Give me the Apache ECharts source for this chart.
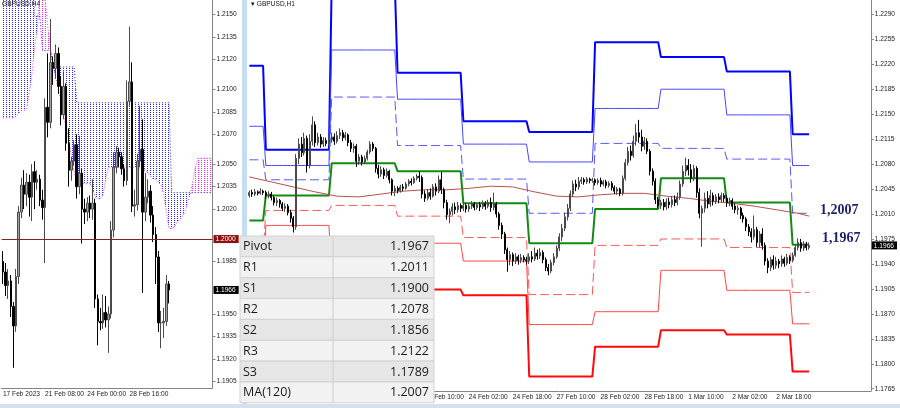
<!DOCTYPE html>
<html>
<head>
<meta charset="utf-8">
<script src="https://cdn.jsdelivr.net/npm/echarts@6/dist/echarts.min.js"></script>
<style>
  html, body { margin: 0; padding: 0; background: #fff; }
  #chart { width: 900px; height: 408px; }
</style>
</head>
<body>
<div id="chart"></div>
<script>
// ---- left window: GBPUSD H4, [open, close, low, high] ----
var leftCandles = [
  [1.1985,1.1978,1.1970,1.1992],[1.1978,1.1969,1.1962,1.1984],[1.1969,1.1972,1.1960,1.1980],
  [1.1972,1.1955,1.1948,1.1976],[1.1955,1.1942,1.1914,1.1958],[1.1942,1.1975,1.1938,1.1980],
  [1.1975,1.2018,1.1970,1.2022],[1.2018,1.2036,1.2014,1.2041],[1.2036,1.2030,1.2020,1.2046],
  [1.2030,1.2038,1.2022,1.2044],[1.2038,1.2028,1.2015,1.2043],[1.2028,1.2045,1.2012,1.2050],
  [1.2045,1.2038,1.2020,1.2052],[1.2038,1.2040,1.2033,1.2046],[1.2040,1.2026,1.2022,1.2043],
  [1.2026,1.2021,1.2013,1.2033],[1.2021,1.2088,1.1984,1.2094],[1.2088,1.2078,1.2068,1.2124],
  [1.2078,1.2118,1.2074,1.2147],[1.2118,1.2114,1.2103,1.2122],[1.2114,1.2124,1.2107,1.2130],
  [1.2124,1.2102,1.2097,1.2128],[1.2102,1.2083,1.2076,1.2109],[1.2083,1.2102,1.2080,1.2112],
  [1.2102,1.2064,1.2059,1.2104],[1.2064,1.2046,1.2035,1.2074],[1.2046,1.2052,1.2039,1.2055],
  [1.2052,1.2063,1.2049,1.2066],[1.2063,1.2035,1.2027,1.2070],[1.2035,1.2044,1.2030,1.2069],
  [1.2044,1.2020,1.1997,1.2047],[1.2020,1.2018,1.2010,1.2027],[1.2018,1.2024,1.2012,1.2028],
  [1.2024,1.2020,1.2014,1.2029],[1.2020,1.2024,1.2013,1.2040],[1.2024,1.1960,1.1954,1.2027],
  [1.1960,1.1945,1.1929,1.1963],[1.1945,1.1944,1.1939,1.1954],[1.1944,1.1951,1.1940,1.1963],
  [1.1951,1.1946,1.1941,1.1962],[1.1946,1.1950,1.1924,1.1955],[1.1950,1.2006,1.1947,1.2012],
  [1.2006,1.2048,1.2001,1.2058],[1.2048,1.2058,1.2044,1.2062],[1.2058,1.2055,1.2048,1.2061],
  [1.2055,1.2047,1.2043,1.2058],[1.2047,1.2039,1.2035,1.2050],[1.2039,1.2092,1.2036,1.2106],
  [1.2092,1.2105,1.2089,1.2142],[1.2105,1.2022,1.2018,1.2118],[1.2022,1.2023,1.2015,1.2033],
  [1.2023,1.2052,1.2019,1.2057],[1.2052,1.2060,1.2048,1.2089],[1.2060,1.2018,1.1964,1.2080],
  [1.2018,1.2028,1.2012,1.2044],[1.2028,1.2032,1.2024,1.2040],[1.2032,1.2016,1.2011,1.2036],
  [1.2016,1.2003,1.1998,1.2022],[1.2003,1.1988,1.1970,1.2008],[1.1988,1.1944,1.1938,1.1992],
  [1.1944,1.1944,1.1927,1.1952],[1.1944,1.1945,1.1934,1.1954],[1.1945,1.1970,1.1942,1.1976],
  [1.1970,1.1966,1.1957,1.1972]
];
var leftBarCount = 80;
var leftXLabels = ['17 Feb 2023', '21 Feb 08:00', '24 Feb 00:00', '28 Feb 16:00'];
var leftTicks = [1.1905, 1.1920, 1.1935, 1.1950, 1.1985, 1.2020, 1.2035, 1.2050,
                 1.2070, 1.2085, 1.2100, 1.2120, 1.2135, 1.2150];
var leftLast = 1.1966;
var leftLevel = 1.2000;

// ichimoku senkou spans (shifted forward, so longer than the candles)
var spanA = [
  1.2081,1.2081,1.2081,1.2081,1.2081,1.2082,1.2084,1.2086,1.2086,1.2087,
  1.2098,1.2110,1.2128,1.2140,1.2165,1.2175,1.2160,1.2142,1.2128,1.2118,
  1.2108,1.2100,1.2092,1.2083,1.2074,1.2066,1.2055,1.2045,1.2038,1.2037,
  1.2037,1.2037,1.2037,1.2037,1.2034,1.2028,1.2027,1.2027,1.2030,1.2040,
  1.2048,1.2048,1.2048,1.2048,1.2048,1.2048,1.2048,1.2048,1.2048,1.2048,
  1.2048,1.2048,1.2047,1.2046,1.2046,1.2044,1.2042,1.2040,1.2040,1.2038,
  1.2036,1.2030,1.2018,1.2007,1.2007,1.2008,1.2011,1.2013,1.2015,1.2018,
  1.2024,1.2030,1.2038,1.2048,1.2054,1.2054,1.2054,1.2054,1.2054,1.2054
];
var spanB = [
  1.2190,1.2190,1.2190,1.2190,1.2190,1.2190,1.2190,1.2190,1.2190,1.2190,
  1.2190,1.2190,1.2149,1.2149,1.2149,1.2126,1.2126,1.2126,1.2126,1.2115,
  1.2115,1.2115,1.2115,1.2115,1.2115,1.2115,1.2115,1.2115,1.2091,1.2091,
  1.2091,1.2091,1.2091,1.2091,1.2091,1.2091,1.2091,1.2091,1.2091,1.2091,
  1.2091,1.2091,1.2091,1.2091,1.2091,1.2091,1.2091,1.2091,1.2091,1.2091,
  1.2091,1.2091,1.2091,1.2091,1.2091,1.2091,1.2091,1.2091,1.2091,1.2091,
  1.2091,1.2091,1.2091,1.2091,1.2031,1.2031,1.2031,1.2031,1.2031,1.2031,
  1.2031,1.2031,1.2031,1.2031,1.2031,1.2031,1.2031,1.2031,1.2031,1.2031
];

// ---- right window: GBPUSD H1, [open, close, low, high] ----
var rightCandles = [
  // 20 Feb 18:00
  [1.2036,1.2040,1.2033,1.2043],[1.2040,1.2038,1.2034,1.2044],[1.2038,1.2041,1.2035,1.2045],
  [1.2041,1.2039,1.2036,1.2043],[1.2039,1.2042,1.2037,1.2046],[1.2042,1.2040,1.2037,1.2044],
  // 21 Feb
  [1.2040,1.2036,1.2031,1.2043],[1.2036,1.2038,1.2032,1.2042],[1.2038,1.2033,1.2029,1.2041],
  [1.2033,1.2026,1.2022,1.2036],[1.2026,1.2029,1.2021,1.2033],[1.2029,1.2024,1.2019,1.2031],
  [1.2024,1.2018,1.2014,1.2027],[1.2018,1.2021,1.2013,1.2025],[1.2021,1.2012,1.2008,1.2024],
  [1.2012,1.2004,1.1998,1.2016],[1.2004,1.1992,1.1984,1.2007],[1.1992,1.2088,1.1988,1.2094],
  [1.2088,1.2108,1.2080,1.2116],[1.2108,1.2096,1.2090,1.2118],[1.2096,1.2116,1.2092,1.2124],
  [1.2116,1.2078,1.2068,1.2120],[1.2078,1.2112,1.2074,1.2122],[1.2112,1.2135,1.2106,1.2147],
  [1.2135,1.2110,1.2104,1.2140],[1.2110,1.2118,1.2106,1.2124],[1.2118,1.2108,1.2103,1.2122],
  [1.2108,1.2113,1.2104,1.2118],[1.2113,1.2109,1.2105,1.2117],[1.2109,1.2114,1.2106,1.2118],
  // 22 Feb
  [1.2114,1.2118,1.2110,1.2124],[1.2118,1.2112,1.2107,1.2123],[1.2112,1.2120,1.2109,1.2126],
  [1.2120,1.2124,1.2115,1.2130],[1.2124,1.2117,1.2112,1.2128],[1.2117,1.2121,1.2113,1.2125],
  [1.2121,1.2110,1.2105,1.2123],[1.2110,1.2102,1.2097,1.2114],[1.2102,1.2105,1.2096,1.2109],
  [1.2105,1.2084,1.2076,1.2108],[1.2084,1.2090,1.2079,1.2094],[1.2090,1.2083,1.2078,1.2093],
  [1.2083,1.2088,1.2080,1.2092],[1.2088,1.2097,1.2085,1.2100],[1.2097,1.2108,1.2094,1.2112],
  [1.2108,1.2102,1.2098,1.2111],[1.2102,1.2074,1.2068,1.2104],[1.2074,1.2066,1.2060,1.2079],
  [1.2066,1.2072,1.2062,1.2077],[1.2072,1.2064,1.2059,1.2075],[1.2064,1.2070,1.2061,1.2074],
  [1.2070,1.2058,1.2053,1.2072],[1.2058,1.2042,1.2036,1.2060],[1.2042,1.2046,1.2035,1.2050],
  // 23 Feb
  [1.2046,1.2043,1.2039,1.2049],[1.2043,1.2048,1.2040,1.2051],[1.2048,1.2046,1.2042,1.2052],
  [1.2046,1.2052,1.2044,1.2055],[1.2052,1.2056,1.2049,1.2059],[1.2056,1.2054,1.2050,1.2060],
  [1.2054,1.2060,1.2052,1.2063],[1.2060,1.2063,1.2057,1.2066],[1.2063,1.2061,1.2055,1.2070],
  [1.2061,1.2038,1.2032,1.2064],[1.2038,1.2032,1.2027,1.2043],[1.2032,1.2040,1.2029,1.2045],
  [1.2040,1.2035,1.2030,1.2046],[1.2035,1.2048,1.2033,1.2052],[1.2048,1.2042,1.2036,1.2053],
  [1.2042,1.2058,1.2039,1.2064],[1.2058,1.2044,1.2038,1.2069],[1.2044,1.2026,1.2018,1.2047],
  [1.2026,1.2009,1.2002,1.2030],[1.2009,1.2014,1.1997,1.2018],[1.2014,1.2020,1.2008,1.2025],
  [1.2020,1.2016,1.2010,1.2026],[1.2016,1.2022,1.2012,1.2027],[1.2022,1.2018,1.2013,1.2025],
  // 24 Feb
  [1.2018,1.2022,1.2014,1.2026],[1.2022,1.2017,1.2012,1.2025],[1.2017,1.2021,1.2013,1.2024],
  [1.2021,1.2024,1.2017,1.2028],[1.2024,1.2019,1.2015,1.2027],[1.2019,1.2023,1.2016,1.2026],
  [1.2023,1.2020,1.2014,1.2027],[1.2020,1.2025,1.2017,1.2029],[1.2025,1.2021,1.2016,1.2028],
  [1.2021,1.2026,1.2018,1.2030],[1.2026,1.2019,1.2013,1.2033],[1.2019,1.2024,1.2015,1.2040],
  [1.2024,1.2010,1.2005,1.2027],[1.2010,1.1994,1.1988,1.2013],[1.1994,1.1982,1.1975,1.1998],
  [1.1982,1.1960,1.1954,1.1985],[1.1960,1.1946,1.1929,1.1963],[1.1946,1.1953,1.1938,1.1958],
  [1.1953,1.1944,1.1937,1.1956],[1.1944,1.1950,1.1940,1.1955],[1.1950,1.1945,1.1939,1.1953],
  [1.1945,1.1949,1.1941,1.1954],[1.1949,1.1946,1.1942,1.1952],[1.1946,1.1944,1.1939,1.1950],
  // 27 Feb
  [1.1944,1.1950,1.1940,1.1955],[1.1950,1.1947,1.1942,1.1958],[1.1947,1.1955,1.1944,1.1963],
  [1.1955,1.1951,1.1946,1.1960],[1.1951,1.1956,1.1947,1.1962],[1.1956,1.1946,1.1941,1.1959],
  [1.1946,1.1935,1.1930,1.1949],[1.1935,1.1930,1.1924,1.1940],[1.1930,1.1942,1.1927,1.1946],
  [1.1942,1.1950,1.1938,1.1955],[1.1950,1.1962,1.1947,1.1966],[1.1962,1.1978,1.1958,1.1983],
  [1.1978,1.1990,1.1972,1.1996],[1.1990,1.2006,1.1986,1.2012],[1.2006,1.2018,1.2001,1.2024],
  [1.2018,1.2038,1.2014,1.2043],[1.2038,1.2052,1.2034,1.2057],[1.2052,1.2048,1.2042,1.2058],
  [1.2048,1.2056,1.2044,1.2062],[1.2056,1.2058,1.2052,1.2062],[1.2058,1.2055,1.2051,1.2061],
  [1.2055,1.2059,1.2052,1.2062],[1.2059,1.2057,1.2053,1.2061],[1.2057,1.2058,1.2054,1.2061],
  // 28 Feb
  [1.2058,1.2054,1.2050,1.2060],[1.2054,1.2057,1.2051,1.2060],[1.2057,1.2052,1.2048,1.2061],
  [1.2052,1.2055,1.2049,1.2058],[1.2055,1.2050,1.2046,1.2058],[1.2050,1.2053,1.2047,1.2056],
  [1.2053,1.2047,1.2043,1.2056],[1.2047,1.2042,1.2038,1.2050],[1.2042,1.2045,1.2037,1.2048],
  [1.2045,1.2039,1.2035,1.2047],[1.2039,1.2060,1.2036,1.2064],[1.2060,1.2082,1.2057,1.2087],
  [1.2082,1.2098,1.2078,1.2104],[1.2098,1.2092,1.2085,1.2106],[1.2092,1.2112,1.2089,1.2120],
  [1.2112,1.2124,1.2106,1.2136],[1.2124,1.2118,1.2110,1.2142],[1.2118,1.2105,1.2098,1.2128],
  [1.2105,1.2112,1.2100,1.2118],[1.2112,1.2098,1.2094,1.2116],[1.2098,1.2070,1.2064,1.2101],
  [1.2070,1.2056,1.2050,1.2074],[1.2056,1.2030,1.2024,1.2060],[1.2030,1.2022,1.2018,1.2034],
  // 1 Mar
  [1.2022,1.2026,1.2017,1.2030],[1.2026,1.2020,1.2015,1.2031],[1.2020,1.2027,1.2016,1.2032],
  [1.2027,1.2023,1.2018,1.2033],[1.2023,1.2030,1.2019,1.2035],[1.2030,1.2026,1.2021,1.2036],
  [1.2026,1.2034,1.2022,1.2040],[1.2034,1.2052,1.2030,1.2057],[1.2052,1.2070,1.2048,1.2078],
  [1.2070,1.2078,1.2063,1.2089],[1.2078,1.2072,1.2064,1.2087],[1.2072,1.2060,1.2054,1.2080],
  [1.2060,1.2074,1.2056,1.2079],[1.2074,1.2040,1.2033,1.2077],[1.2040,1.2011,1.2004,1.2046],
  [1.2011,1.2018,1.1964,1.2022],[1.2018,1.2032,1.2012,1.2040],[1.2032,1.2024,1.2018,1.2042],
  [1.2024,1.2036,1.2020,1.2044],[1.2036,1.2028,1.2022,1.2040],[1.2028,1.2034,1.2024,1.2038],
  [1.2034,1.2030,1.2025,1.2039],[1.2030,1.2036,1.2026,1.2040],[1.2036,1.2032,1.2027,1.2039],
  // 2 Mar
  [1.2032,1.2026,1.2020,1.2036],[1.2026,1.2029,1.2021,1.2033],[1.2029,1.2021,1.2016,1.2032],
  [1.2021,1.2016,1.2011,1.2025],[1.2016,1.2018,1.2009,1.2022],[1.2018,1.2008,1.2003,1.2020],
  [1.2008,1.2003,1.1998,1.2012],[1.2003,1.1992,1.1986,1.2006],[1.1992,1.1985,1.1979,1.1996],
  [1.1985,1.1978,1.1970,1.1990],[1.1978,1.1988,1.1974,1.2008],[1.1988,1.1970,1.1964,1.1992],
  [1.1970,1.1982,1.1963,1.1986],[1.1982,1.1966,1.1960,1.1990],[1.1966,1.1944,1.1938,1.1970],
  [1.1944,1.1935,1.1927,1.1948],[1.1935,1.1946,1.1930,1.1950],[1.1946,1.1938,1.1932,1.1952],
  [1.1938,1.1944,1.1933,1.1950],[1.1944,1.1940,1.1934,1.1947],[1.1940,1.1947,1.1936,1.1952],
  [1.1947,1.1941,1.1936,1.1950],[1.1941,1.1949,1.1938,1.1954],[1.1949,1.1945,1.1940,1.1952],
  // 3 Mar
  [1.1945,1.1952,1.1942,1.1956],[1.1952,1.1963,1.1950,1.1968],[1.1963,1.1970,1.1959,1.1976],
  [1.1970,1.1962,1.1957,1.1975],[1.1962,1.1968,1.1958,1.1972],[1.1968,1.1963,1.1959,1.1971],
  [1.1963,1.1966,1.1960,1.1970]
];
var rightBarCount = 227;
var rightXLabels = ['20 Feb 18:00', '21 Feb 10:00', '22 Feb 02:00', '22 Feb 18:00',
  '23 Feb 10:00', '24 Feb 02:00', '24 Feb 18:00', '27 Feb 10:00', '28 Feb 02:00',
  '28 Feb 18:00', '1 Mar 10:00', '2 Mar 02:00', '2 Mar 18:00'];
var rightTicks = [1.1765, 1.1800, 1.1835, 1.1870, 1.1905, 1.1940, 1.1975, 1.2010,
                  1.2045, 1.2080, 1.2115, 1.2150, 1.2185, 1.2220, 1.2255, 1.2290];
var rightLast = 1.1966;

// daily pivot levels, one value per session (20 Feb .. 3 Mar)
var dayBars = [6, 24, 24, 24, 24, 24, 24, 24, 24, 7];
var r3 = [1.2218, 1.2100, 1.2333, 1.2208, 1.2140, 1.2125, 1.2251, 1.2230, 1.2210, 1.2122];
var r2 = [1.2133, 1.2078, 1.2240, 1.2171, 1.2108, 1.2083, 1.2158, 1.2185, 1.2149, 1.2078];
var r1 = [1.2086, 1.2058, 1.2174, 1.2106, 1.2059, 1.2011, 1.2109, 1.2102, 1.2087, 1.2011];
var pv = [1.2001, 1.2036, 1.2081, 1.2070, 1.2025, 1.1969, 1.2017, 1.2060, 1.2026, 1.1967];
var s1 = [1.1954, 1.2015, 1.2022, 1.2007, 1.1977, 1.1897, 1.1966, 1.1975, 1.1963, 1.1900];
var s2 = [1.1869, 1.1994, 1.1921, 1.1969, 1.1944, 1.1855, 1.1873, 1.1931, 1.1903, 1.1856];
var s3 = [1.1822, 1.1974, 1.1854, 1.1904, 1.1896, 1.1782, 1.1824, 1.1847, 1.1841, 1.1789];

// MA(120), read every 8 bars
var maIdx = [0, 8, 16, 24, 32, 40, 48, 56, 64, 72, 80, 88, 96, 104, 112, 120, 128,
             136, 144, 152, 160, 168, 176, 184, 192, 200, 204];
var maVal = [1.2062, 1.2055, 1.2048, 1.2041, 1.2035, 1.2034, 1.2038, 1.2042, 1.2044,
             1.2044, 1.2046, 1.2049, 1.2048, 1.2041, 1.2035, 1.2034, 1.2037, 1.2039,
             1.2039, 1.2035, 1.2032, 1.2028, 1.2025, 1.2021, 1.2016, 1.2011, 1.2007];

var tableNames = ['Pivot', 'R1', 'S1', 'R2', 'S2', 'R3', 'S3', 'MA(120)'];
var tableValues = ['1.1967', '1.2011', '1.1900', '1.2078', '1.1856', '1.2122', '1.1789', '1.2007'];

// ---- helpers ----
var AXIS_FONT = 'Liberation Sans';
var AXIS_COLOR = '#858585';
var FS = 6.6;

function perBar(levels) {
  var out = [];
  levels.forEach(function (v, d) {
    for (var h = 0; h < dayBars[d]; h++) out.push(v);
  });
  return out;
}

function indexCats(n) {
  var c = [];
  for (var i = 0; i < n; i++) c.push(String(i));
  return c;
}

function dots(color) {
  var c = document.createElement('canvas');
  c.width = 3; c.height = 2;
  var g = c.getContext('2d');
  g.fillStyle = color;
  g.fillRect(0, 0, 1, 1);
  return { image: c, repeat: 'repeat' };
}

function labelEvery16(list) {
  return function (idx) { return idx % 16 === 0 && idx / 16 < list.length; };
}

function timeAxis(grid, n, list) {
  return {
    type: 'category', gridIndex: grid, data: indexCats(n), boundaryGap: true,
    axisLine: { onZero: false, lineStyle: { color: AXIS_COLOR } },
    axisTick: { interval: labelEvery16(list), length: 3, lineStyle: { color: AXIS_COLOR } },
    axisLabel: {
      interval: labelEvery16(list),
      formatter: function (v, idx) { return list[idx / 16]; },
      align: 'left', margin: 3, fontSize: FS, color: '#222', fontFamily: AXIS_FONT
    },
    splitLine: { show: false }
  };
}

// price axis: plain tick labels plus boxed tags (last price, levels) drawn by the axis
function priceAxis(grid, min, max, ticks, tags) {
  var rich = {
    n: { fontSize: FS, fontFamily: AXIS_FONT, color: '#222', padding: [0, 0, 0, 3] }
  };
  tags.forEach(function (t, i) {
    rich['t' + i] = { fontSize: FS, fontFamily: AXIS_FONT, color: '#fff',
                      backgroundColor: t.bg, padding: [1, 3, 0, 2] };
  });
  return {
    type: 'value', gridIndex: grid, position: 'right', min: min, max: max,
    splitLine: { show: false },
    axisLine: { show: true, lineStyle: { color: AXIS_COLOR } },
    axisTick: { show: true, customValues: ticks, length: 3, lineStyle: { color: AXIS_COLOR } },
    axisLabel: {
      customValues: ticks.concat(tags.map(function (t) { return t.value; })),
      margin: 1, rich: rich,
      formatter: function (v) {
        for (var i = 0; i < tags.length; i++) {
          if (Math.abs(v - tags[i].value) < 1e-7) return '{t' + i + '|' + v.toFixed(4) + '}';
        }
        return '{n|' + v.toFixed(4) + '}';
      }
    }
  };
}

function level(name, levels, color, width, dash, extra) {
  var s = {
    name: name, type: 'line', xAxisIndex: 1, yAxisIndex: 1, data: perBar(levels),
    symbol: 'none', silent: true, z: 2,
    lineStyle: { color: color, width: width, type: dash || 'solid' }
  };
  if (extra) s.endLabel = extra;
  return s;
}

// cloud: base at the lower span, then the gap coloured by whichever span is on top
var kumoLow = spanA.map(function (a, i) { return Math.min(a, spanB[i]); });
var kumoBlue = spanA.map(function (a, i) { return spanB[i] > a ? spanB[i] - a : 0; });
var kumoPink = spanA.map(function (a, i) { return a > spanB[i] ? a - spanB[i] : 0; });

var maData = [];
for (var i = 0; i < rightCandles.length; i++) maData.push(null);
maIdx.forEach(function (ix, n) { maData[ix] = maVal[n]; });

var candleStyle = {
  color: '#a3a3a3', color0: '#000', borderColor: '#4a4a4a', borderColor0: '#000', borderWidth: 1
};

var noteLabel = {
  color: '#1f1f6e', fontFamily: 'Liberation Serif', fontWeight: 'bold', fontSize: 14
};

// ---- table overlay ----
var tbl = { x: 240, y: 236, w: 194, rowH: 20.85, split: 333 };
var graphics = [
  { type: 'rect', shape: { x: 242, y: 0, width: 5, height: 404 }, style: { fill: '#c6dcf0' }, z: 90 },
  { type: 'rect', shape: { x: 0, y: 404, width: 900, height: 4 }, style: { fill: '#d4e2f0' }, z: 90 }
];
tableNames.forEach(function (name, r) {
  var y = tbl.y + r * tbl.rowH;
  graphics.push({
    type: 'rect', shape: { x: tbl.x, y: y, width: tbl.w, height: tbl.rowH },
    style: { fill: r % 2 === 0 ? '#e6e6e6' : '#f2f2f2', stroke: '#d2d2d2', lineWidth: 1 }, z: 100
  });
  graphics.push({
    type: 'text', z: 101,
    style: { x: tbl.x + 3, y: y + tbl.rowH / 2 + 0.5, text: name, fill: '#1a1a1a',
             font: '12.5px "Open Sans"', align: 'left', verticalAlign: 'middle' }
  });
  graphics.push({
    type: 'text', z: 101,
    style: { x: tbl.x + tbl.w - 5, y: y + tbl.rowH / 2 + 0.5, text: tableValues[r], fill: '#1a1a1a',
             font: '12.5px "Open Sans"', align: 'right', verticalAlign: 'middle' }
  });
});
graphics.push({
  type: 'line', z: 101,
  shape: { x1: tbl.split, y1: tbl.y, x2: tbl.split, y2: tbl.y + tbl.rowH * tableNames.length },
  style: { stroke: '#cccccc', lineWidth: 1 }
});

var option = {
  animation: false,
  backgroundColor: '#fff',
  title: [
    { text: 'GBPUSD,H4', left: 2, top: 1, padding: 0,
      textStyle: { fontSize: FS, fontWeight: 'normal', color: '#111', fontFamily: AXIS_FONT } },
    { text: '\u25BE GBPUSD,H1', left: 251, top: 1, padding: 0,
      textStyle: { fontSize: FS, fontWeight: 'normal', color: '#111', fontFamily: AXIS_FONT } }
  ],
  grid: [
    { left: -9, top: 0, width: 221.5, height: 388 },
    { left: 248, top: 0, width: 625.5, height: 391 }
  ],
  xAxis: [
    timeAxis(0, leftBarCount, leftXLabels),
    timeAxis(1, rightBarCount, rightXLabels)
  ],
  yAxis: [
    priceAxis(0, 1.19005, 1.21597, leftTicks,
      [{ value: leftLevel, bg: '#8e0f0f' }, { value: leftLast, bg: '#000' }]),
    priceAxis(1, 1.17618, 1.23101, rightTicks, [{ value: rightLast, bg: '#000' }])
  ],
  graphic: { elements: graphics },
  series: [
    // left: ichimoku cloud
    { type: 'line', xAxisIndex: 0, yAxisIndex: 0, data: kumoLow, stack: 'kumo',
      symbol: 'none', silent: true, z: 1, lineStyle: { opacity: 0 } },
    { type: 'line', xAxisIndex: 0, yAxisIndex: 0, data: kumoBlue, stack: 'kumo',
      symbol: 'none', silent: true, z: 1, lineStyle: { opacity: 0 },
      areaStyle: { color: dots('#2a2aff'), opacity: 1 } },
    { type: 'line', xAxisIndex: 0, yAxisIndex: 0, data: kumoPink, stack: 'kumo',
      symbol: 'none', silent: true, z: 1, lineStyle: { opacity: 0 },
      areaStyle: { color: dots('#ff22ff'), opacity: 1 } },
    { type: 'line', xAxisIndex: 0, yAxisIndex: 0, data: spanA, symbol: 'none', silent: true, z: 1,
      lineStyle: { color: '#ff22ff', width: 1, type: [1, 2] } },
    { type: 'line', xAxisIndex: 0, yAxisIndex: 0, data: spanB, symbol: 'none', silent: true, z: 1,
      lineStyle: { color: '#2a2aff', width: 1, type: [1, 2] },
      markLine: { symbol: 'none', silent: true, label: { show: false },
                  lineStyle: { color: '#8a2020', width: 1, type: 'solid' },
                  data: [{ yAxis: leftLevel }] } },
    // left: candles
    { type: 'candlestick', xAxisIndex: 0, yAxisIndex: 0, data: leftCandles, barWidth: 2,
      itemStyle: candleStyle, z: 3, silent: true },
    // right: pivot levels and MA
    level('R3', r3, '#0000ff', 2),
    level('R2', r2, '#4646ff', 1),
    level('R1', r1, '#5555ff', 1, [9, 4]),
    level('Pivot', pv, '#138a13', 2, null,
      Object.assign({ show: true, formatter: '1,1967', distance: 13, offset: [0, -6] }, noteLabel)),
    level('S1', s1, '#ff5555', 1, [9, 4]),
    level('S2', s2, '#ff4646', 1),
    level('S3', s3, '#ff0a0a', 2),
    { name: 'MA(120)', type: 'line', xAxisIndex: 1, yAxisIndex: 1, data: maData, connectNulls: true,
      symbol: 'none', silent: true, z: 2, lineStyle: { color: '#b6524d', width: 1 },
      endLabel: Object.assign({ show: true, formatter: '1,2007', distance: 11, offset: [0, -6] }, noteLabel) },
    // right: candles
    { type: 'candlestick', xAxisIndex: 1, yAxisIndex: 1, data: rightCandles, barWidth: 1.5,
      itemStyle: candleStyle, z: 3, silent: true }
  ]
};

var myChart = echarts.init(document.getElementById('chart'));
myChart.setOption(option);
</script>
</body>
</html>
